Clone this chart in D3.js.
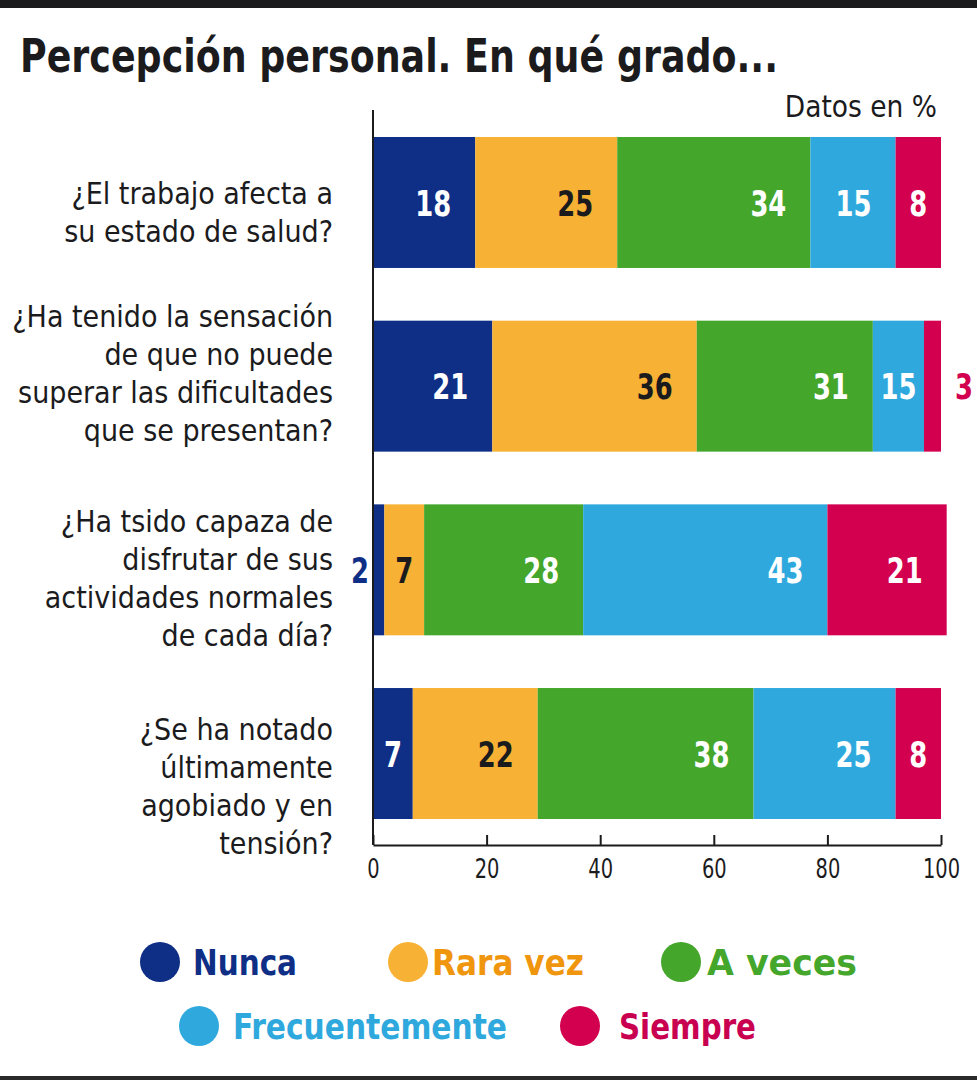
<!DOCTYPE html>
<html>
<head>
<meta charset="utf-8">
<script src="https://cdn.jsdelivr.net/npm/d3@7"></script>
<style>
  body { margin: 0; background: #fff; }
  svg text { font-family: "Liberation Sans Narrow", "DejaVu Sans Condensed", "Roboto", sans-serif; }
</style>
</head>
<body>
<div id="chart"></div>
<script>
var svgWidth = 977;
var svgHeight = 1080;

// Data
var questions = [
  "¿El trabajo afecta a\nsu estado de salud?",
  "¿Ha tenido la sensación\nde que no puede\nsuperar las dificultades\nque se presentan?",
  "¿Ha tsido capaza de\ndisfrutar de sus\nactividades normales\nde cada día?",
  "¿Se ha notado\núltimamente\nagobiado y en\ntensión?"
];
var answers = ["Nunca", "Rara vez", "A veces", "Frecuentemente", "Siempre"];
var nunca = [18, 21, 2, 7];
var raraVez = [25, 36, 7, 22];
var aVeces = [34, 31, 28, 38];
var frecuentemente = [15, 9, 43, 25];   // bar drawn 9 wide in row 2
var siempre = [8, 3, 21, 8];
// printed labels (row 2 prints 15 on the light blue bar)
var printedFrecuentemente = [15, 15, 43, 25];
var xTicks = [0, 20, 40, 60, 80, 100];

var colors = ["#0f2f86", "#f7b134", "#45a62c", "#2fa9dd", "#d3004f"];
var legendTextColors = ["#0f2f86", "#f0960e", "#45a62c", "#2fa9dd", "#c90050"];

var seriesValues = [nunca, raraVez, aVeces, frecuentemente, siempre];
var seriesLabels = [nunca, raraVez, aVeces, printedFrecuentemente, siempre];

// squeeze text horizontally to mimic the condensed face of the original
function squeeze(sel, f) {
  sel.each(function() {
    var len = this.getComputedTextLength();
    d3.select(this).attr("textLength", len * f).attr("lengthAdjust", "spacingAndGlyphs");
  });
}

// build stacked rows
var rows = questions.map(function(q, i) {
  var start = 0;
  return {
    question: q,
    i: i,
    segs: answers.map(function(a, k) {
      var seg = { answer: a, k: k, x0: start, x1: start + seriesValues[k][i], label: seriesLabels[k][i] };
      start = seg.x1;
      return seg;
    })
  };
});

var svg = d3.select("#chart")
  .append("svg")
  .attr("width", svgWidth)
  .attr("height", svgHeight);

// top bar and bottom rule
svg.append("rect").attr("x", 0).attr("y", 0).attr("width", svgWidth).attr("height", 8).attr("fill", "#1b1b1d");
svg.append("rect").attr("x", 0).attr("y", 1076).attr("width", svgWidth).attr("height", 4).attr("fill", "#2a2a2a");

svg.append("text")
  .attr("x", 20)
  .attr("y", 72)
  .attr("font-size", "47px")
  .attr("font-weight", "bold")
  .attr("fill", "#1b1b1d")
  .attr("textLength", 758)
  .attr("lengthAdjust", "spacingAndGlyphs")
  .text("Percepción personal. En qué grado...");

svg.append("text")
  .attr("x", 937)
  .attr("y", 117)
  .attr("text-anchor", "end")
  .attr("font-size", "31px")
  .attr("fill", "#1b1b1d")
  .text("Datos en %")
  .call(squeeze, 0.95);

var x = d3.scaleLinear().domain([0, 100]).range([373, 941]);
var y = d3.scaleBand().domain(questions).range([137, 819]).paddingInner(0.287);

// bars
var rowG = svg.selectAll(".row")
  .data(rows)
  .enter()
  .append("g")
  .attr("class", "row")
  .attr("transform", d => `translate(0, ${y(d.question)})`);

rowG.selectAll("rect")
  .data(d => d.segs)
  .enter()
  .append("rect")
  .attr("x", d => x(d.x0))
  .attr("width", d => x(d.x1) - x(d.x0))
  .attr("y", 0)
  .attr("height", y.bandwidth())
  .attr("fill", d => colors[d.k]);

// value labels
rowG.selectAll("text.val")
  .data(d => d.segs)
  .enter()
  .append("text")
  .attr("class", "val")
  .attr("y", y.bandwidth() / 2)
  .attr("dy", "0.38em")
  .attr("font-size", "35px")
  .attr("font-weight", "bold")
  .each(function(d) {
    var w = x(d.x1) - x(d.x0);
    var t = d3.select(this);
    if (w < 20) {
      // tiny bar: label sits outside
      if (d.k === 0) t.attr("x", x(d.x0) - 4).attr("text-anchor", "end");
      else t.attr("x", x(d.x1) + 14).attr("text-anchor", "start");
      t.attr("fill", colors[d.k]);
    } else {
      if (w < 60) t.attr("x", (x(d.x0) + x(d.x1)) / 2).attr("text-anchor", "middle");
      else t.attr("x", x(d.x1) - 24).attr("text-anchor", "end");
      t.attr("fill", d.k === 1 ? "#1b1b1d" : "#fff");
    }
  })
  .text(d => d.label)
  .call(squeeze, 0.82);

// question labels
var lineH = 38;
var labelShift = [9, -14, 7, 31];
rowG.append("text")
  .attr("text-anchor", "end")
  .attr("font-size", "30px")
  .attr("fill", "#1b1b1d")
  .each(function(d) {
    var lines = d.question.split("\n");
    var t = d3.select(this);
    lines.forEach(function(l, i) {
      t.append("tspan")
        .attr("x", 333)
        .attr("y", y.bandwidth() / 2 + 12 + labelShift[d.i] + (i - (lines.length - 1) / 2) * lineH)
        .text(l);
    });
  });

// axes
svg.append("line")
  .attr("x1", x(0)).attr("x2", x(0))
  .attr("y1", 110).attr("y2", 845)
  .attr("stroke", "#1b1b1d").attr("stroke-width", 2);

var bottomAxis = d3.axisBottom(x).tickValues(xTicks).tickSize(-10).tickSizeOuter(0).tickPadding(14);
var axisG = svg.append("g")
  .attr("transform", "translate(0, 845)")
  .call(bottomAxis);
axisG.select(".domain").attr("stroke", "#1b1b1d").attr("stroke-width", 2);
axisG.selectAll(".tick line").attr("stroke", "#1b1b1d").attr("stroke-width", 2);
axisG.selectAll(".tick text")
  .attr("font-family", "\"Liberation Sans Narrow\", \"DejaVu Sans Condensed\", Roboto, sans-serif")
  .attr("font-size", "27px")
  .attr("fill", "#1b1b1d")
  .call(squeeze, 0.8);

// legend layout
var legendCircle = [[160, 962], [408, 962], [681, 962], [199, 1026], [580, 1026]];
var legendTextX = [193, 432, 707, 233, 619];
var legendTextW = [104, 152, 150, 274, 137];
var legend = svg.selectAll(".legend")
  .data(answers)
  .enter()
  .append("g")
  .attr("class", "legend");
legend.append("circle")
  .attr("cx", (d, i) => legendCircle[i][0])
  .attr("cy", (d, i) => legendCircle[i][1])
  .attr("r", 20)
  .attr("fill", (d, i) => colors[i]);
legend.append("text")
  .attr("x", (d, i) => legendTextX[i])
  .attr("y", (d, i) => legendCircle[i][1])
  .attr("dy", "0.36em")
  .attr("font-size", "36px")
  .attr("font-weight", "bold")
  .attr("fill", (d, i) => legendTextColors[i])
  .attr("textLength", (d, i) => legendTextW[i])
  .attr("lengthAdjust", "spacingAndGlyphs")
  .text(d => d);
</script>
</body>
</html>
